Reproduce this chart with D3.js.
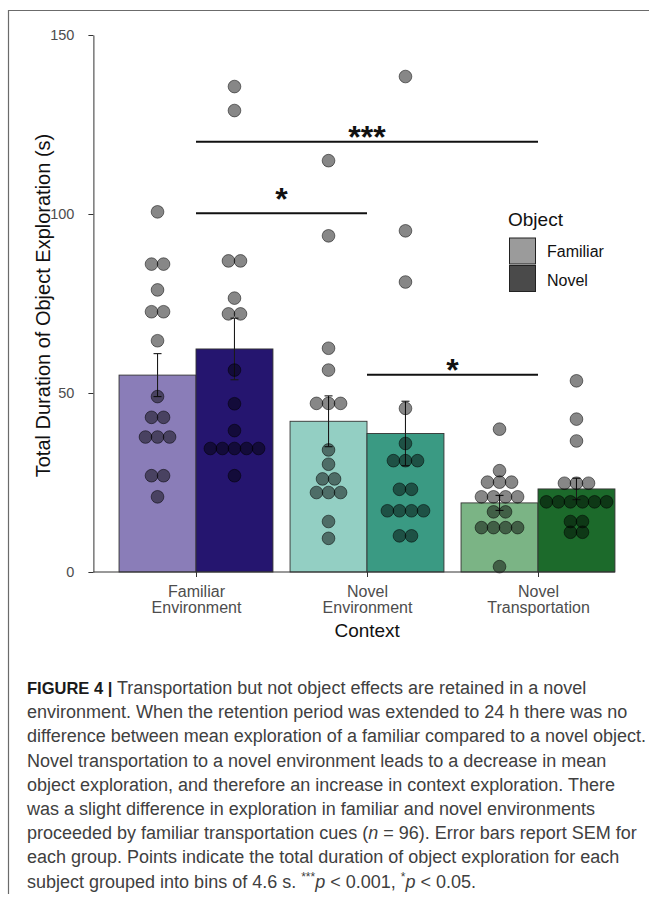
<!DOCTYPE html>
<html>
<head>
<meta charset="utf-8">
<script src="https://cdn.jsdelivr.net/npm/d3@7"></script>
<style>
  body { margin: 0; background: #fff; }
  svg { display: block; font-family: "Liberation Sans", Arial, sans-serif; }
</style>
</head>
<body>
<svg id="chart" width="649" height="901"></svg>
<script>
// ---- data ----
const contexts = ["Familiar Environment", "Novel Environment", "Novel Transportation"];
const contextLabels = [["Familiar", "Environment"], ["Novel", "Environment"], ["Novel", "Transportation"]];
const objects = ["Familiar", "Novel"];

// group means (s) and standard errors
const meanFamiliar = [55.0, 42.1, 19.3];
const meanNovel    = [62.3, 38.7, 23.2];
const semFamiliar  = [6.0, 7.1, 2.1];
const semNovel     = [8.6, 9.0, 3.0];

// per-subject totals, binned (bin centres, s)
const pointsFamiliar = [
  [100.6, 86.0, 86.0, 78.8, 72.7, 72.7, 64.6, 49.0, 43.2, 43.2, 37.7, 37.7, 37.7, 26.9, 26.9, 21.0],
  [114.9, 93.9, 62.5, 56.4, 47.1, 47.1, 47.1, 34.1, 30.1, 26.0, 26.0, 22.2, 22.2, 22.2, 14.1, 9.4],
  [39.9, 28.3, 25.1, 25.1, 25.1, 21.0, 21.0, 21.0, 21.0, 16.8, 16.8, 12.4, 12.4, 12.4, 12.4, 1.5]
];
const pointsNovel = [
  [135.6, 128.9, 86.9, 86.9, 76.5, 72.1, 72.1, 56.4, 47.0, 39.5, 34.5, 34.5, 34.5, 34.5, 34.5, 26.9],
  [138.4, 95.3, 81.0, 45.7, 35.9, 31.1, 31.1, 31.1, 23.1, 23.1, 17.1, 17.1, 17.1, 17.1, 10.1, 10.1],
  [53.4, 42.7, 36.6, 24.8, 24.8, 24.8, 19.6, 19.6, 19.6, 19.6, 19.6, 19.6, 14.1, 14.1, 11.1, 11.1]
];

const barColorsFamiliar = ["#8a7db8", "#93cfc3", "#7bb485"];
const barColorsNovel    = ["#25156f", "#3a9a83", "#1c6a2b"];
const legendColors = ["#9b9b9b", "#4a4a4a"];

const yTicks = [0, 50, 100, 150];

// significance brackets: from context index, to context index, bracket height, label height
const sigLabels = ["***", "*", "*"];
const sigFrom   = [0, 0, 1];
const sigTo     = [2, 1, 2];
const sigLineY  = [120.2, 100.2, 55.1];
const sigTextY  = [123.5, 106.4, 58.5];

const captionLines = [
  [["FIGURE 4", "b"], ["  |  ", "bar"], ["Transportation but not object effects are retained in a novel", ""]],
  [["environment. When the retention period was extended to 24 h there was no", ""]],
  [["difference between mean exploration of a familiar compared to a novel object.", ""]],
  [["Novel transportation to a novel environment leads to a decrease in mean", ""]],
  [["object exploration, and therefore an increase in context exploration. There", ""]],
  [["was a slight difference in exploration in familiar and novel environments", ""]],
  [["proceeded by familiar transportation cues (", ""], ["n", "i"], [" = 96). Error bars report SEM for", ""]],
  [["each group. Points indicate the total duration of object exploration for each", ""]],
  [["subject grouped into bins of 4.6 s. ", ""], ["***", "sup"], ["p", "i"], [" < 0.001, ", ""], ["*", "sup"], ["p", "i"], [" < 0.05.", ""]]
];

// ---- drawing ----
const svg = d3.select("#chart");

// figure frame (left and top edges)
svg.append("path")
  .attr("d", "M8.5,894 V10.5 H660")
  .attr("fill", "none").attr("stroke", "#6b6b6b").attr("stroke-width", 1.2);

const y = d3.scaleLinear().domain([0, 150]).range([572, 35]);
const x = d3.scalePoint().domain(contexts).range([196, 538]);
const step = x.step();
const dodge = d3.scaleBand().domain(objects).range([-0.45 * step, 0.45 * step]).padding(0);
const panelLeft = x(contexts[0]) - 0.6 * step;
const panelRight = x(contexts[contexts.length - 1]) + 0.45 * step;

// assemble group records
const groups = [];
contexts.forEach((c, i) => {
  groups.push({ ctx: c, obj: "Familiar", mean: meanFamiliar[i], sem: semFamiliar[i], pts: pointsFamiliar[i], color: barColorsFamiliar[i] });
  groups.push({ ctx: c, obj: "Novel", mean: meanNovel[i], sem: semNovel[i], pts: pointsNovel[i], color: barColorsNovel[i] });
});
const cx = g => x(g.ctx) + dodge(g.obj) + dodge.bandwidth() / 2;

// bars
svg.append("g").selectAll("rect").data(groups).join("rect")
  .attr("x", g => x(g.ctx) + dodge(g.obj))
  .attr("width", dodge.bandwidth())
  .attr("y", g => y(g.mean))
  .attr("height", g => y(0) - y(g.mean))
  .attr("fill", g => g.color)
  .attr("stroke", "#333").attr("stroke-width", 0.9);

// error bars
const eb = svg.append("g").attr("stroke", "#1a1a1a").attr("stroke-width", 1.1);
groups.forEach(g => {
  const xc = cx(g);
  eb.append("line").attr("x1", xc).attr("x2", xc).attr("y1", y(g.mean - g.sem)).attr("y2", y(g.mean + g.sem));
  [g.mean - g.sem, g.mean + g.sem].forEach(v =>
    eb.append("line").attr("x1", xc - 4).attr("x2", xc + 4).attr("y1", y(v)).attr("y2", y(v)));
});

// binned dot stacks, centred on each bar
const binWidth = 4.6, dotSize = 0.77, stackRatio = 0.95;
const dotR = (y(0) - y(binWidth)) * dotSize / 2;
const dots = [];
groups.forEach(g => {
  const rows = d3.group(g.pts, v => v);
  rows.forEach((vals, v) => {
    vals.forEach((_, k) => {
      dots.push({ x: cx(g) + (k - (vals.length - 1) / 2) * 2 * dotR * stackRatio, v });
    });
  });
});
svg.append("g").selectAll("circle").data(dots).join("circle")
  .attr("cx", d => d.x).attr("cy", d => y(d.v)).attr("r", dotR)
  .attr("fill", "#000").attr("fill-opacity", 0.47)
  .attr("stroke", "#000").attr("stroke-opacity", 0.5).attr("stroke-width", 1);

// significance brackets
sigLabels.forEach((lab, i) => {
  const x1 = x(contexts[sigFrom[i]]), x2 = x(contexts[sigTo[i]]);
  svg.append("line").attr("x1", x1).attr("x2", x2)
    .attr("y1", y(sigLineY[i])).attr("y2", y(sigLineY[i]))
    .attr("stroke", "#111").attr("stroke-width", 2);
  svg.append("text").attr("x", (x1 + x2) / 2).attr("y", y(sigTextY[i]))
    .attr("dy", "0.58em").attr("text-anchor", "middle")
    .attr("font-size", 32).attr("font-weight", "bold").attr("fill", "#111")
    .text(lab);
});

// y axis
const yAxis = svg.append("g").attr("transform", `translate(${panelLeft},0)`)
  .call(d3.axisLeft(y).tickValues(yTicks).tickSize(5).tickSizeOuter(0).tickPadding(14));
yAxis.select(".domain").attr("stroke", "#333");
yAxis.selectAll(".tick line").attr("stroke", "#333");
yAxis.selectAll(".tick text").attr("font-size", 14.5).attr("fill", "#4d4d4d")
  .attr("font-family", "Liberation Sans, Arial, sans-serif");

// x axis
const xAxis = svg.append("g").attr("transform", `translate(0,${y(0)})`)
  .call(d3.axisBottom(x).tickSize(5).tickSizeOuter(0));
xAxis.select(".domain").remove();
xAxis.append("line").attr("x1", panelLeft).attr("x2", panelRight).attr("stroke", "#333");
xAxis.selectAll(".tick line").attr("stroke", "#333");
xAxis.selectAll(".tick text").each(function (d, i) {
  const t = d3.select(this).attr("y", null).attr("dy", null).text(null)
    .attr("font-size", 16).attr("fill", "#4d4d4d")
    .attr("font-family", "Liberation Sans, Arial, sans-serif");
  contextLabels[i].forEach((line, j) =>
    t.append("tspan").attr("x", 0).attr("y", 24.5 + j * 16.5).text(line));
});

// axis titles
svg.append("text").attr("x", (panelLeft + panelRight) / 2 + 13).attr("y", 637)
  .attr("text-anchor", "middle").attr("font-size", 19).attr("fill", "#111").text("Context");
svg.append("text")
  .attr("transform", `translate(50,${(y(0) + y(150)) / 2 + 2}) rotate(-90)`)
  .attr("text-anchor", "middle").attr("font-size", 20).attr("fill", "#111")
  .text("Total Duration of Object Exploration (s)");

// legend
const lg = svg.append("g").attr("transform", "translate(509,226)");
lg.append("text").attr("x", -1).attr("y", 0).attr("font-size", 19).attr("fill", "#111").text("Object");
objects.forEach((o, i) => {
  lg.append("rect").attr("x", 0.5).attr("y", 12 + i * 27.5).attr("width", 26).attr("height", 26)
    .attr("fill", legendColors[i]).attr("stroke", "#222").attr("stroke-width", 1);
  lg.append("text").attr("x", 38).attr("y", 31 + i * 28.5).attr("font-size", 16).attr("fill", "#111").text(o);
});

// caption
const cap = svg.append("g").attr("font-size", 18).attr("fill", "#404040");
captionLines.forEach((segs, i) => {
  const t = cap.append("text").attr("x", 27).attr("y", 694 + i * 24.2);
  segs.forEach(([s, style]) => {
    const ts = t.append("tspan").text(s);
    if (style === "b") ts.attr("font-weight", "bold").attr("fill", "#1a1a1a").attr("font-size", 16.5);
    if (style === "bar") ts.attr("fill", "#1a1a1a").attr("font-weight", "bold").attr("font-size", 16.5);
    if (style === "i") ts.attr("font-style", "italic");
    if (style === "sup") ts.attr("font-size", 12).attr("baseline-shift", "super");
  });
});
</script>
</body>
</html>
